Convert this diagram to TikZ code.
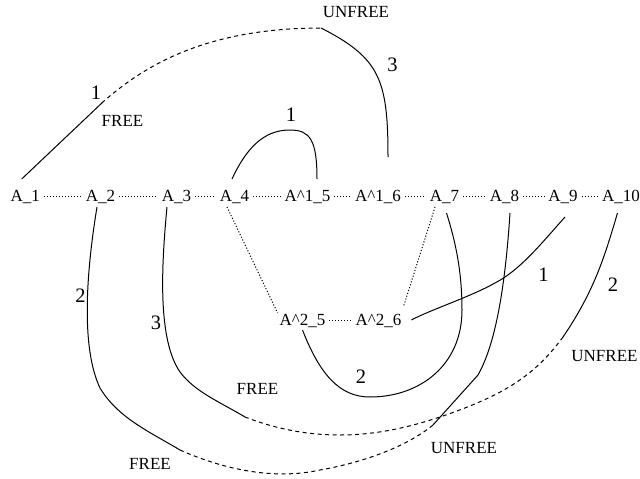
\documentclass[tikz,border=0pt]{standalone}
\usepackage{fontspec}
\setmainfont{Liberation Serif}
\begin{document}
\begin{tikzpicture}[x=1pt,y=-1pt,
  lab/.style={font=\fontsize{17}{20}\selectfont, inner sep=2pt, outer xsep=2pt, outer ysep=8pt, text height=12pt, text depth=2pt, anchor=base},
  tag/.style={font=\fontsize{17}{20}\selectfont, inner sep=0pt},
  num/.style={font=\fontsize{20.5}{24}\selectfont, inner sep=0pt},
  dotline/.style={line width=1pt, dash pattern=on 1.1pt off 1.9pt},
  solidline/.style={line width=1pt},
  dashline/.style={line width=1pt, dash pattern=on 4pt off 3.5pt}]
\useasboundingbox (0,0) rectangle (640,479);

% main row
\node[lab] (A1)  at (25.3,201)  {A\_1};
\node[lab] (A2)  at (100.5,201) {A\_2};
\node[lab] (A3)  at (176.5,201) {A\_3};
\node[lab] (A4)  at (234.5,201) {A\_4};
\node[lab] (A15) at (307.5,201) {A\textasciicircum 1\_5};
\node[lab] (A16) at (378,201)   {A\textasciicircum 1\_6};
\node[lab] (A7)  at (444.5,201) {A\_7};
\node[lab] (A8)  at (504.5,201) {A\_8};
\node[lab] (A9)  at (563,201)   {A\_9};
\node[lab] (A10) at (621,201)   {A\_10};
% lower row
\node[lab] (A25) at (302.5,325) {A\textasciicircum 2\_5};
\node[lab] (A26) at (378.5,325) {A\textasciicircum 2\_6};

% dotted chain
\draw[dotline] (A1) -- (A2);
\draw[dotline] (A2) -- (A3);
\draw[dotline] (A3) -- (A4);
\draw[dotline] (A4) -- (A15);
\draw[dotline] (A15) -- (A16);
\draw[dotline] (A16) -- (A7);
\draw[dotline] (A7) -- (A8);
\draw[dotline] (A8) -- (A9);
\draw[dotline] (A9) -- (A10);
\draw[dotline] (A25) -- (A26);
\draw[dotline] ([xshift=-7.5pt,yshift=6pt]A4.south) -- ([xshift=2pt,yshift=-10pt]A25.north west);
\draw[dotline] ([xshift=-9.5pt,yshift=6pt]A7.south) -- ([xshift=-2pt,yshift=-4pt]A26.north east);

% junction points
\coordinate (j1) at (104,101);
\coordinate (j2) at (321,28);
\coordinate (j3) at (180,450);
\coordinate (j4) at (433,425);
\coordinate (j5) at (245,417);
\coordinate (j6) at (563,337);

% top curve A_1 -> A^1_6
\draw[solidline] ([xshift=-3.6pt]A1.north) -- (j1);
\draw[dashline, dash phase=3pt] (j1) .. controls (140,70) and (200,28) .. (j2);
\draw[solidline] (j2) .. controls (380,58) and (388,80) .. ([xshift=10pt,yshift=22pt]A16.north);

% arc A_4 -> A^1_5
\draw[solidline] ([xshift=-2.5pt]A4.north) .. controls (250,140) and (270,130) .. (290,130)
  .. controls (310,130) and (317,140) .. ([xshift=9.5pt]A15.north);

% A_2 -> A_8
\draw[solidline] ([xshift=-3.5pt,yshift=6pt]A2.south) .. controls (85,280) and (82,350) .. (100,388)
  .. controls (118,418) and (150,432) .. (j3);
\draw[dashline] (j3) .. controls (225,470) and (275,480) .. (320,470) .. controls (360,463) and (405,448) .. (j4);
\draw[solidline] ([xshift=5.5pt]A8.south) .. controls (505,290) and (495,345) .. (478,375) -- (j4);

% A_3 -> A_10
\draw[solidline] ([xshift=-9.5pt,yshift=6pt]A3.south) .. controls (161,270) and (158,340) .. (180,372)
  .. controls (195,392) and (220,402) .. (j5);
\draw[dashline] (j6) .. controls (535,375) and (505,395) .. (440,417) .. controls (400,430) and (330,450) .. (j5);
\draw[solidline] ([xshift=-3.5pt]A10.south) .. controls (605,255) and (595,290) .. (j6);

% loop A^2_5 -> A_7
\draw[solidline] ([yshift=7pt]A25.south) .. controls (320,375) and (340,397) .. (370,397)
  .. controls (420,397) and (462,365) .. (462,310) .. controls (462,270) and (455,240) .. ([xshift=2pt]A7.south);

% A_9 -> A^2_6
\draw[solidline] ([xshift=2pt,yshift=-4pt]A9.south) .. controls (540,245) and (520,270) .. (495,283)
  .. controls (470,297) and (430,310) .. ([xshift=6pt]A26.east);

% labels
\node[num] (n1) at (96,92.5) {1};
\node[tag] (f1) at (122.5,120.5) {FREE};
\node[tag] (u1) at (356,12.5) {UNFREE};
\node[num] (n2) at (392.5,65) {3};
\node[num] (n3) at (291,114.5) {1};
\node[num] (n4) at (80.5,296) {2};
\node[num] (n5) at (156,323) {3};
\node[tag] (f2) at (257.5,389) {FREE};
\node[tag] (f3) at (150,464) {FREE};
\node[num] (n6) at (361,377) {2};
\node[num] (n7) at (543.5,275) {1};
\node[num] (n8) at (613,285) {2};
\node[tag] (u2) at (604.5,356.5) {UNFREE};
\node[tag] (u3) at (464,448) {UNFREE};
\end{tikzpicture}
\end{document}
